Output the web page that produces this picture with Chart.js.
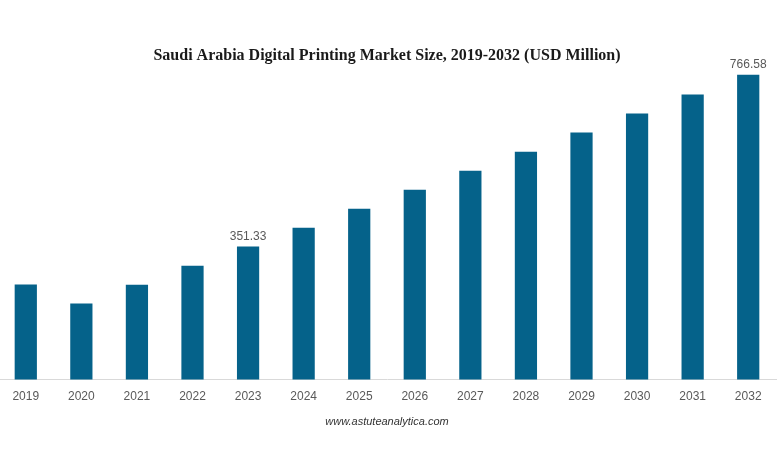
<!DOCTYPE html>
<html>
<head>
<meta charset="utf-8">
<script src="https://cdn.jsdelivr.net/npm/chart.js@4.4.1/dist/chart.umd.min.js"></script>
<style>
  html, body { margin: 0; padding: 0; background: #fff; overflow: hidden; }
  #wrap { position: relative; width: 780px; height: 470px; margin-left: -2px; }
</style>
</head>
<body>
<div id="wrap"><canvas id="marketChart"></canvas></div>
<script>
const years = ['2019', '2020', '2021', '2022', '2023', '2024', '2025', '2026', '2027', '2028', '2029', '2030', '2031', '2032'];
const marketSize = [259.3, 213.5, 258.8, 304.6, 351.33, 396.6, 442.3, 488.8, 534.6, 580.3, 626.8, 673.0, 718.8, 766.58];
const labeledYears = ['2023', '2032'];

// Colors
const barColor = '#05628a';
const textGray = '#595959';

// draws the value above the bars listed in labeledYears
const valueLabels = {
  id: 'valueLabels',
  afterDatasetsDraw(chart) {
    const ctx = chart.ctx;
    const meta = chart.getDatasetMeta(0);
    ctx.save();
    ctx.font = '12px Arial, "Liberation Sans", sans-serif';
    ctx.fillStyle = textGray;
    ctx.textAlign = 'center';
    ctx.textBaseline = 'bottom';
    years.forEach((year, i) => {
      if (!labeledYears.includes(year)) return;
      const bar = meta.data[i];
      ctx.fillText(marketSize[i].toFixed(2), bar.x, bar.y - 4);
    });
    ctx.restore();
  }
};

new Chart(document.getElementById('marketChart').getContext('2d'), {
  type: 'bar',
  data: {
    labels: years,
    datasets: [{
      label: 'Market Size (USD Million)',
      data: marketSize,
      backgroundColor: barColor,
      borderWidth: 0,
      barPercentage: 0.4,
      categoryPercentage: 1.0
    }]
  },
  options: {
    responsive: true,
    maintainAspectRatio: false,
    animation: false,
    layout: {
      padding: { top: 46, left: 0, right: 2, bottom: 41 }
    },
    plugins: {
      legend: { display: false },
      tooltip: { enabled: false },
      title: {
        display: true,
        text: 'Saudi Arabia Digital Printing Market Size, 2019-2032 (USD Million)',
        color: '#1a1a1a',
        font: { family: '"Liberation Serif", "Times New Roman", serif', size: 16, weight: 'bold' },
        padding: { top: 0, bottom: 4 }
      },
      subtitle: {
        display: true,
        position: 'bottom',
        text: 'www.astuteanalytica.com',
        color: '#333333',
        font: { family: 'Arial, "Liberation Sans", sans-serif', size: 11, style: 'italic' },
        padding: { top: 1, bottom: 0 }
      }
    },
    scales: {
      x: {
        grid: { display: false, drawTicks: false },
        border: { display: true, color: '#d9d9d9', width: 1 },
        ticks: {
          color: textGray,
          padding: 10.5,
          font: { family: 'Arial, "Liberation Sans", sans-serif', size: 12 }
        }
      },
      y: {
        display: false,
        min: 30,
        max: 780
      }
    }
  },
  plugins: [valueLabels]
});
</script>
</body>
</html>
